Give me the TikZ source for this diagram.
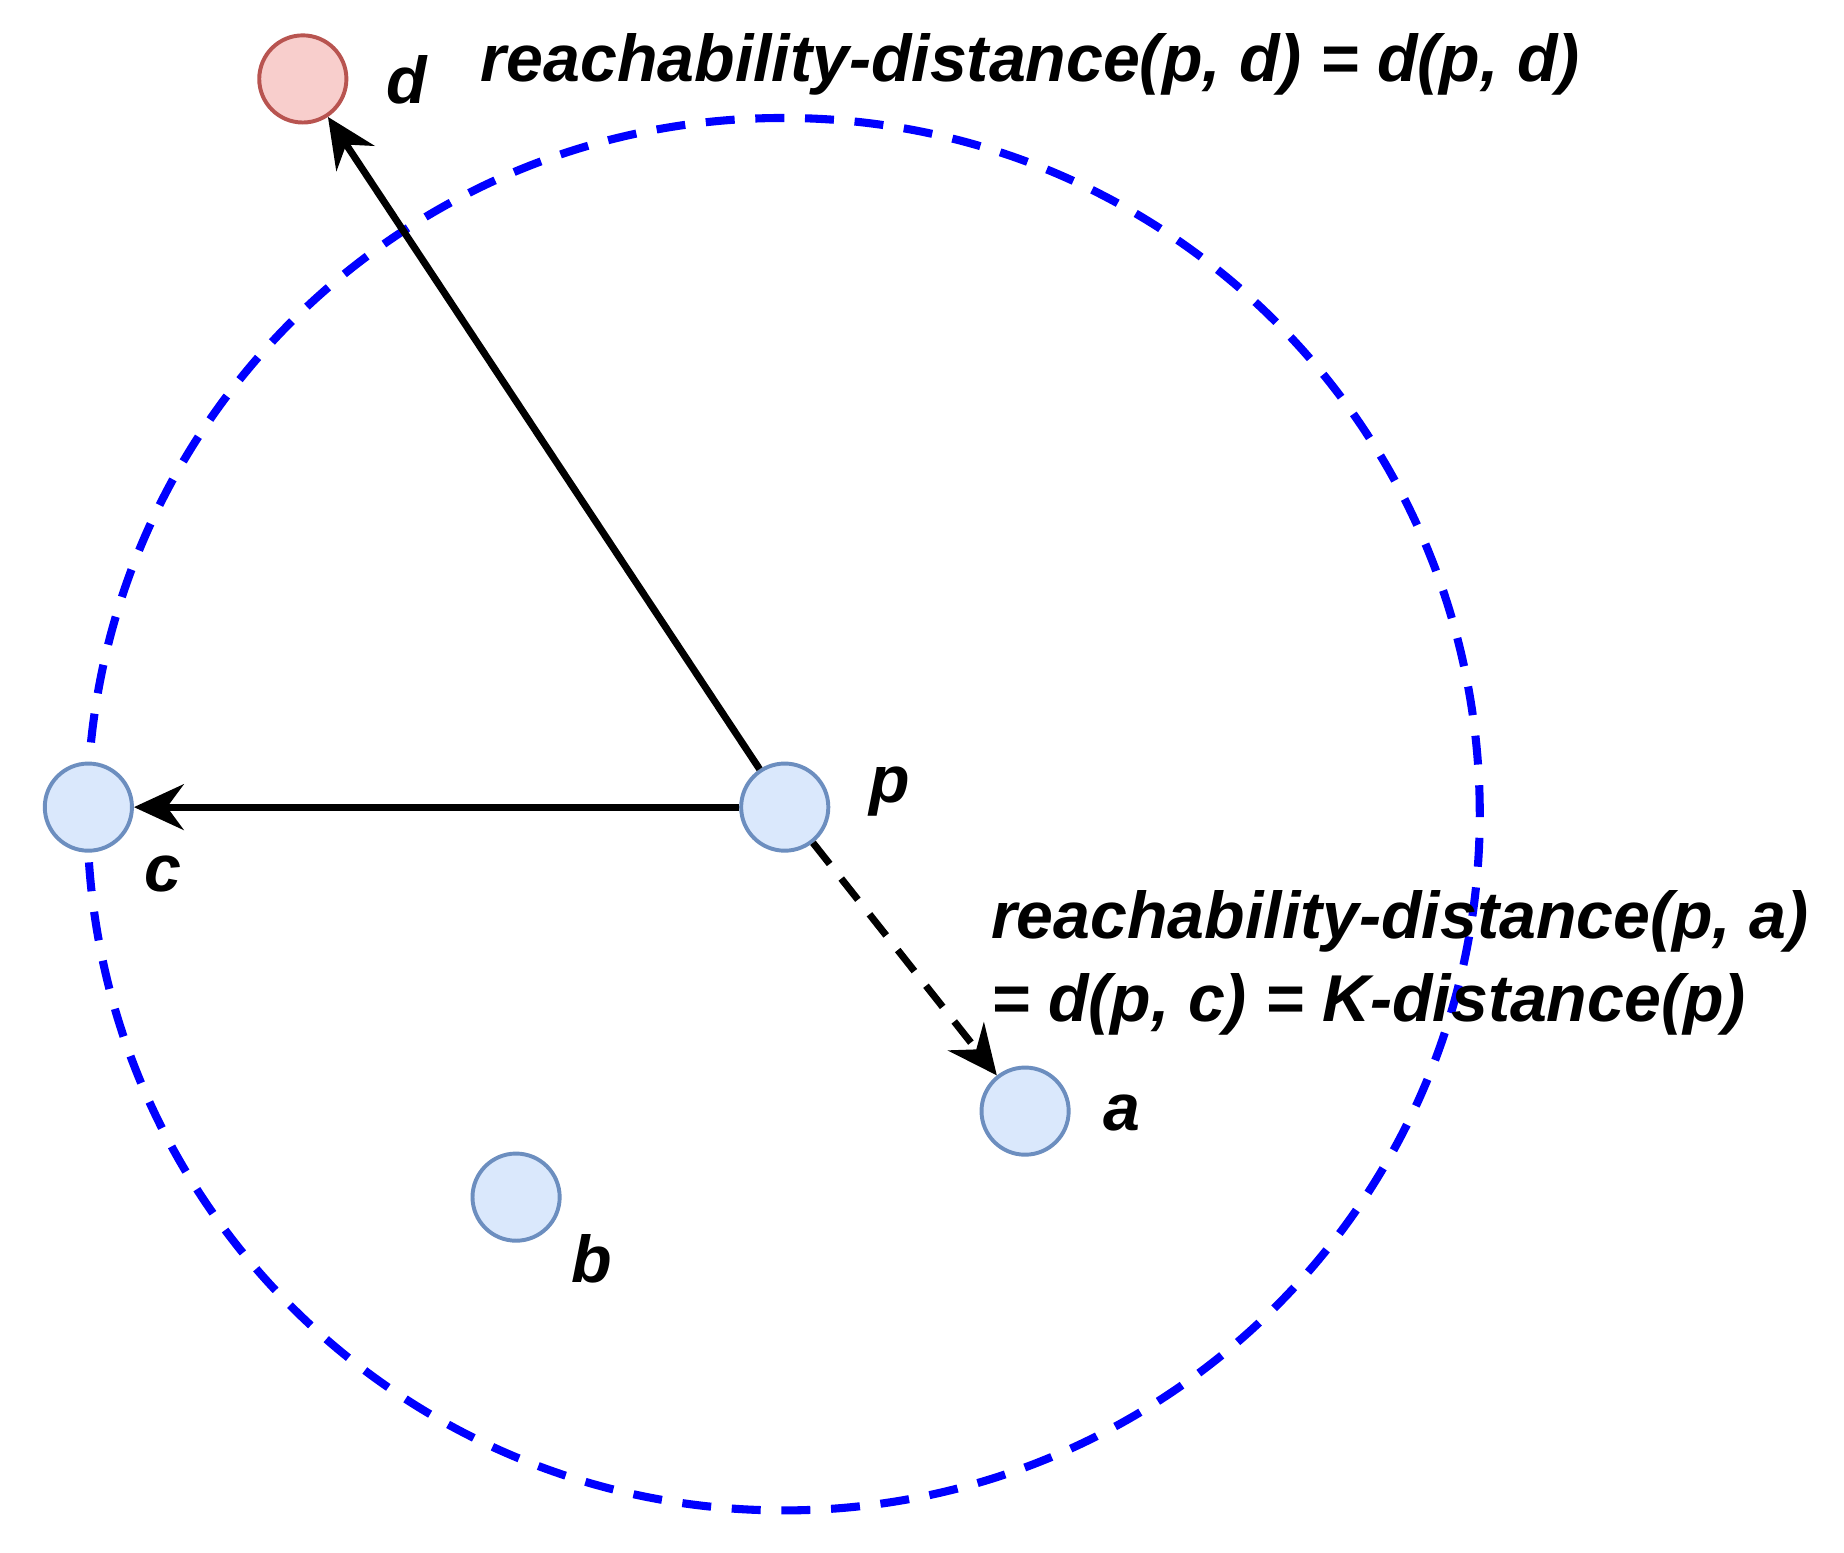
\documentclass[tikz,border=0pt]{standalone}
\usepackage{fontspec}
\setmainfont{Liberation Sans}
\usetikzlibrary{arrows.meta}
\begin{document}
\begin{tikzpicture}[x=0.02cm,y=-0.02cm,
  pt/.style={circle,minimum size=1.48cm,inner sep=0pt,line width=1.9pt},
  lab/.style={font=\fontsize{32}{40}\selectfont\bfseries\itshape},
  arr/.style={line width=3.4pt,-{Stealth[length=24pt,width=22pt,inset=8pt]}}]
\useasboundingbox (0,0) rectangle (1565,1318);
\definecolor{pfill}{HTML}{DAE8FC}\definecolor{pdraw}{HTML}{6C8EBF}
\definecolor{rfill}{HTML}{F8CECC}\definecolor{rdraw}{HTML}{B85450}
\draw[blue,line width=3.9pt,dash pattern=on 14pt off 10pt] (665,691) circle[radius=11.82cm];
\node[pt,fill=rfill,draw=rdraw] (d) at (257,67) {};
\node[pt,fill=pfill,draw=pdraw] (p) at (666,685) {};
\node[pt,fill=pfill,draw=pdraw] (c) at (75,685) {};
\node[pt,fill=pfill,draw=pdraw] (a) at (870,943) {};
\node[pt,fill=pfill,draw=pdraw] (b) at (438,1016) {};
\node[lab] (ld) at (345,68) {d};
\node[lab] (lp) at (755,672) {p};
\node[lab] (lc) at (138,742) {c};
\node[lab] (la) at (952,945) {a};
\node[lab] (lb) at (502,1068) {b};
\node[lab,anchor=west] (t1) at (402,55) {reachability-distance(p, d) = d(p, d)};
\node[lab,anchor=west,align=left] (t2) at (835,817) {reachability-distance(p, a)\\= d(p, c) = K-distance(p)};
\draw[arr] (p) -- (d);
\draw[arr] (p) -- (c);
\draw[arr,dash pattern=on 13pt off 9pt] (p) -- (a);
\end{tikzpicture}
\end{document}
